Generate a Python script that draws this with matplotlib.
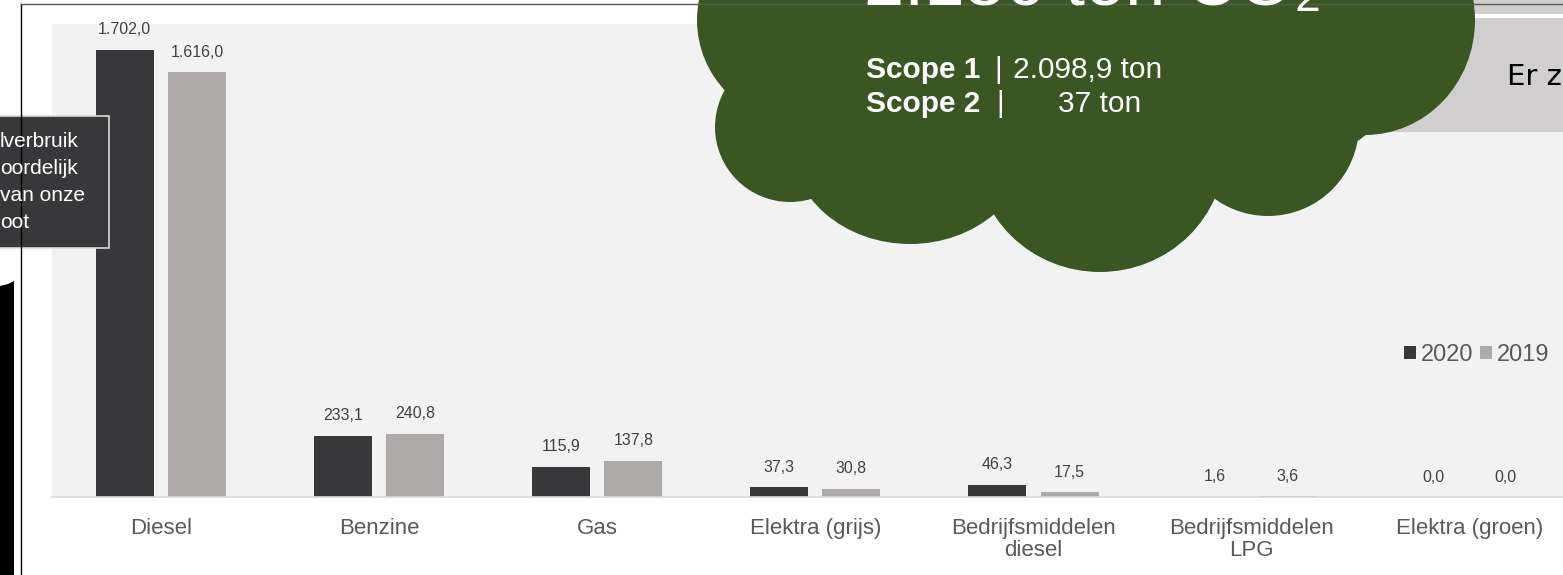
import matplotlib

matplotlib.use("Agg")
import matplotlib.pyplot as plt
import numpy as np
from matplotlib.patches import Ellipse, Polygon, Rectangle

# chart data
categories = [
    "Diesel",
    "Benzine",
    "Gas",
    "Elektra (grijs)",
    "Bedrijfsmiddelen\ndiesel",
    "Bedrijfsmiddelen\nLPG",
    "Elektra (groen)",
]
values_2020 = [1702.0, 233.1, 115.9, 37.3, 46.3, 1.6, 0.0]
values_2019 = [1616.0, 240.8, 137.8, 30.8, 17.5, 3.6, 0.0]
series_names = ["2020", "2019"]

scope_labels = ["Scope 1", "Scope 2"]
scope_values = ["2.098,9 ton", "37 ton"]
callout_lines = ["lverbruik", "oordelijk", "van onze", "oot"]

DARK = "#38383a"
LIGHT = "#aeaaaa"
GREEN = "#3a5623"
TEXT = "#595959"

plt.rcParams["font.family"] = ["Liberation Sans", "DejaVu Sans"]

W, H = 1563, 575
fig = plt.figure(figsize=(W / 100, H / 100), dpi=100)
fig.patch.set_facecolor("white")


def nl(v):
    """Dutch number format: 1.702,0"""
    return f"{v:,.1f}".replace(",", "X").replace(".", ",").replace("X", ".")


# --- bar chart (plot area runs past the right edge of the slide) ---
left, right, top, bottom = 51.85, 1578.6, 24, 497
ax = fig.add_axes([left / W, (H - bottom) / H, (right - left) / W, (bottom - top) / H])
ax.set_facecolor("#f2f2f2")

x = np.arange(len(categories))
bw, off = 0.266, 0.166
b1 = ax.bar(x - off, values_2020, bw, color=DARK, label=series_names[0])
b2 = ax.bar(x + off, values_2019, bw, color=LIGHT, label=series_names[1])
for bars in (b1, b2):
    ax.bar_label(bars, labels=[nl(v) for v in bars.datavalues],
                 padding=9, fontsize=11.5, color="#404040")

ax.set_xlim(-0.5, len(categories) - 0.5)
ax.set_ylim(0, 1800)
ax.set_yticks([])
ax.set_xticks(x, categories, fontsize=16, color=TEXT, linespacing=1.05)
ax.tick_params(axis="x", length=0, pad=15)
for s in ["left", "right", "top"]:
    ax.spines[s].set_visible(False)
ax.spines["bottom"].set_color("#d9d9d9")
ax.spines["bottom"].set_linewidth(1.2)

ax.legend(loc="center left", bbox_to_anchor=(1404 / W, 1 - 355 / H),
          bbox_transform=fig.transFigure, ncol=2, frameon=False, fontsize=17,
          handlelength=0.5, handleheight=0.5, handletextpad=0.2,
          columnspacing=0.3, borderpad=0, borderaxespad=0, labelcolor=TEXT)

# --- slide decorations on top, in pixel coordinates ---
ov = fig.add_axes([0, 0, 1, 1])
ov.set_xlim(0, W)
ov.set_ylim(H, 0)
ov.axis("off")
ov.patch.set_alpha(0)
ov.set_zorder(ax.get_zorder() + 1)

ov.plot([21, 21], [4, H], color="black", lw=1)
ov.plot([21, W], [4, 4], color="#595959", lw=1)

# photo edge at the far left
ov.add_patch(Polygon([(0, 286), (8, 284), (14, 281), (14, H), (0, H)],
                     closed=True, fc="black", ec="none"))

# dark callout box, mostly off-slide
ov.add_patch(Rectangle((-2, 116), 111, 132, fc=DARK, ec="#d9d9d9", lw=1.2))
for i, line in enumerate(callout_lines):
    ov.text(0, 147 + i * 27, line, fontsize=15, color="white", va="baseline")

# grey boxes top right
ov.add_patch(Rectangle((1300, -2), 270, 16, fc="#d0cece", ec="none"))
ov.add_patch(Rectangle((1300, 18), 270, 114, fc="#d0cece", ec="none"))
ov.text(1507, 85, "Er z", fontsize=21, family="DejaVu Sans", color="black",
        va="baseline")

# green cloud built from overlapping ellipses
bumps = [
    (800, 20, 206, 206),
    (790, 127, 150, 150),
    (910, 140, 240, 208),
    (1100, 150, 250, 244),
    (1268, 125, 182, 182),
    (1365, 20, 220, 230),
    (1080, 60, 660, 300),
]
for cx, cy, w, h in bumps:
    ov.add_patch(Ellipse((cx, cy), w, h, fc=GREEN, ec="none"))

ov.text(864, 5, "2.136 ton CO\u2082", fontsize=52, color="white", va="baseline")

for i, (lab, val) in enumerate(zip(scope_labels, scope_values)):
    yb = 78 + i * 34
    ov.text(866, yb, lab, fontsize=21.5, weight="bold", color="white", va="baseline")
    ov.text(994 + i * 2, yb, "|", fontsize=21.5, color="white", va="baseline")
    ov.text(1013 if i == 0 else 1058, yb, val, fontsize=21.5, color="white",
            va="baseline")

fig.savefig("out.png", dpi=100)
